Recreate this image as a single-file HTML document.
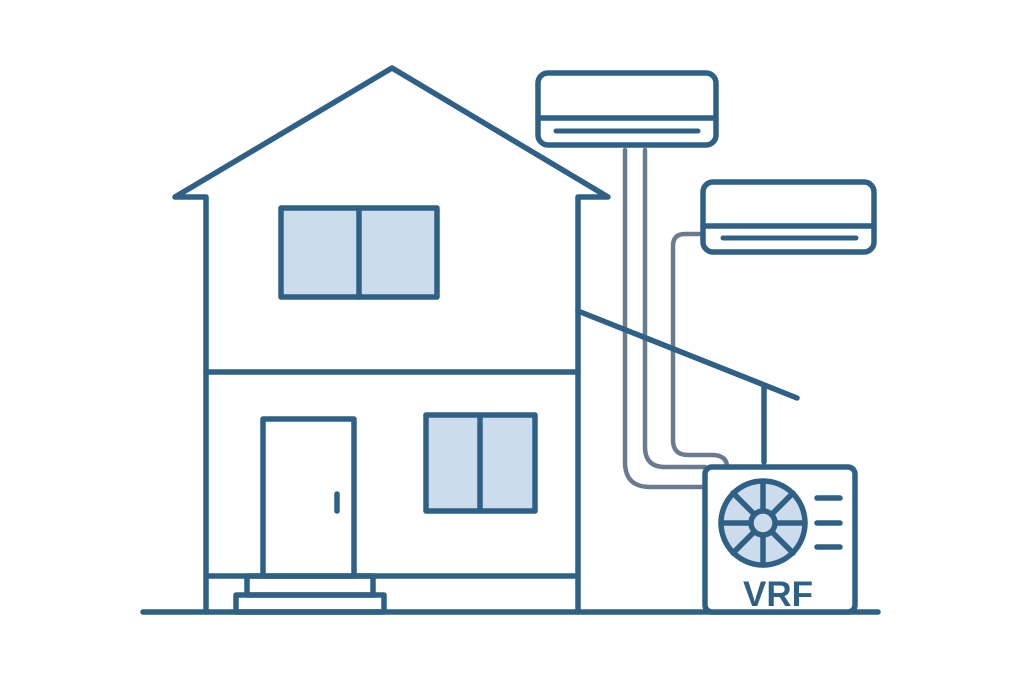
<!DOCTYPE html>
<html><head><style>html,body{margin:0;padding:0;background:#fff}</style></head>
<body>
<svg width="1024" height="683" viewBox="0 0 1024 683" xmlns="http://www.w3.org/2000/svg">
<g fill="none" stroke="#6b7b8f" stroke-width="4.5" stroke-linecap="round" stroke-linejoin="round">
<path d="M625 150 V462 Q625 487 650 487 H705"/>
<path d="M645 150 V447 Q645 467 665 467 H705"/>
<path d="M702 234 H685 Q673 234 673 246 V440 Q673 455 688 455 H712 Q727 455 727 467"/>
</g>
<g fill="none" stroke="#2f6186" stroke-width="5.5" stroke-linecap="round" stroke-linejoin="round">
<path d="M143 612 H878"/>
<path d="M175 197 L392 68 L608 197 H578 V612 M175 197 H206 V612"/>
<path d="M206 372 H578"/>
<path d="M206 576 H578"/>
<rect x="281" y="208" width="156" height="89" fill="#cddcec"/>
<path d="M359 208 V297"/>
<rect x="426" y="415" width="109" height="96" fill="#cddcec"/>
<path d="M480 415 V511"/>
<rect x="263" y="419" width="91" height="157" fill="#fff"/>
<path d="M337 494 V511"/>
<rect x="247" y="576" width="126" height="19"/>
<rect x="236" y="595" width="148" height="17"/>
<path d="M578 311 L797 398 M764 387 V462"/>
<rect x="538" y="73" width="178" height="72" rx="10" fill="#fff"/>
<path d="M538 118 H716"/>
<path d="M556 131 H698" stroke-width="5"/>
<rect x="703" y="182" width="171" height="70" rx="10" fill="#fff"/>
<path d="M703 226 H874"/>
<path d="M723 238 H856" stroke-width="5"/>
<rect x="705" y="467" width="150" height="145" rx="7" fill="#fff"/>
<circle cx="763" cy="523" r="42" fill="#cddcec"/>
<path d="M763 481 V565 M721 523 H805 M733 493 L793 553 M793 493 L733 553"/>
<circle cx="763" cy="523" r="12" fill="#cddcec"/>
<path d="M817 498 H840 M817 523 H840 M817 547 H840"/>
</g>
<text x="778" y="606" text-anchor="middle" font-family="Liberation Sans, sans-serif" font-weight="bold" font-size="35" fill="#2f6186">VRF</text>
</svg>
</body></html>
